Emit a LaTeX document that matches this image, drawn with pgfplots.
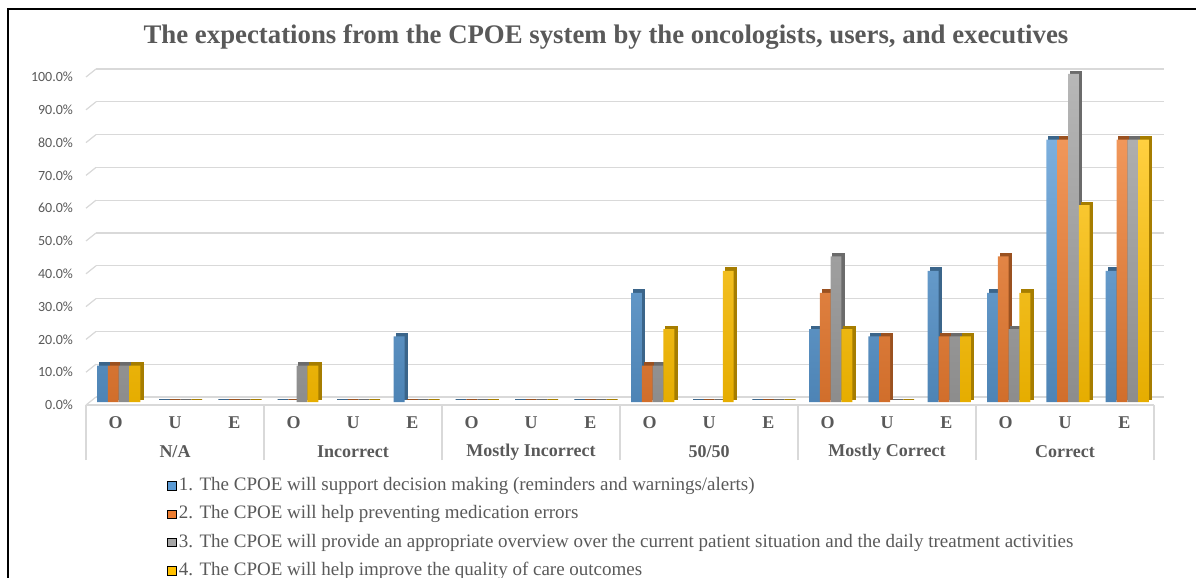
\documentclass[border=0pt]{standalone}
\usepackage{pgfplots}
\pgfplotsset{compat=1.18}
\usepackage{pgfplotstable}
\usepackage{fontspec}
\setmainfont{Liberation Serif}
\newfontfamily\calib{Carlito}
\definecolor{lblgray}{HTML}{595959}
\definecolor{gridc}{HTML}{D9D9D9}
\definecolor{cA}{HTML}{5B9BD5}
\definecolor{cB}{HTML}{ED7D31}
\definecolor{cC}{HTML}{A5A5A5}
\definecolor{cD}{HTML}{FFC000}
\pgfplotstableread{
x s1 s2 s3 s4
0 11.1 11.1 11.1 11.1
1 0 0 0 0
2 0 0 0 0
3 0 0 11.1 11.1
4 0 0 0 0
5 20 0 0 0
6 0 0 0 0
7 0 0 0 0
8 0 0 0 0
9 33.3 11.1 11.1 22.2
10 0 0 0 40
11 0 0 0 0
12 22.2 33.3 44.4 22.2
13 20 20 0 0
14 40 20 20 20
15 33.3 44.4 22.2 33.3
16 80 80 100 60
17 40 80 80 80
}\datatable
\begin{document}
\begin{tikzpicture}
\useasboundingbox (0,0) rectangle (598bp,289bp);
\draw[line width=1bp] (4bp,0) -- (4bp,284.5bp) -- (598bp,284.5bp);
\node[anchor=base, text=lblgray, font=\bfseries\fontsize{13.4bp}{15bp}\selectfont] at (303bp,267bp)
  {The expectations from the CPOE system by the oncologists, users, and executives};
\begin{axis}[
  at={(43bp,86.5bp)}, anchor=south west,
  scale only axis, width=534bp, height=164bp,
  xmin=-0.5, xmax=17.5, ymin=0, ymax=100,
  clip=false,
  axis x line*=bottom, axis y line*=left,
  x axis line style={-, draw=gridc, line width=0.6bp},
  y axis line style={draw=none},
  ytick={0,10,...,100},
  ytick style={draw=none},
  ymajorgrids,
  major grid style={draw=gridc, line width=0.6bp, xshift=5bp, yshift=4bp},
  /pgf/number format/.cd, fixed, fixed zerofill, precision=1, assume math mode=true,
  /pgfplots/.cd,
  yticklabel={\pgfmathprintnumber{\tick}\%},
  yticklabel style={font=\calib\fontsize{7bp}{8bp}\selectfont, text=lblgray, xshift=-3bp},
  xtick={0,...,17},
  xticklabels={O,U,E,O,U,E,O,U,E,O,U,E,O,U,E,O,U,E},
  major tick length=0pt,
  xticklabel style={anchor=center, yshift=-9bp, font=\bfseries\fontsize{9bp}{10bp}\selectfont, text=lblgray},
  extra x ticks={-0.5,2.5,5.5,8.5,11.5,14.5,17.5},
  extra x tick labels={},
  extra x tick style={major tick length=27.5bp, tick align=outside, tick style={draw=gridc, line width=0.6bp}, grid=none},
  legend image code/.code={\fill[#1] (0bp,-2.1bp) rectangle (4.2bp,2.1bp);},
  legend style={at={(axis description cs:0.0758,-0.209)}, anchor=north west, draw=none, fill=none,
    inner sep=0pt, row sep=2.3bp, cells={anchor=west},
    /tikz/every even column/.append style={column sep=0pt},
    /tikz/every odd column/.append style={column sep=0pt},
    font=\fontsize{9.5bp}{11bp}\selectfont, text=lblgray,
    nodes={text height=7bp, text depth=2.5bp, inner sep=1.2bp}},
]
\pgfplotsinvokeforeach{0,10,20,30,40,50,60,70,80,90,100}{\draw[gridc, line width=0.6bp] (axis cs:-0.5,#1) -- ++(5bp,4bp);}
% shadows (3D sides)
\addplot[ybar, forget plot, bar width=5.4bp, bar shift=-6.6bp, fill=cA!65!black, draw=cA!65!black, line width=0.8bp, xshift=1.3bp, yshift=2.8bp] table[x=x,y=s1]{\datatable};
\addplot[ybar, forget plot, bar width=5.4bp, bar shift=-1.2bp, fill=cB!65!black, draw=cB!65!black, line width=0.8bp, xshift=1.3bp, yshift=2.8bp] table[x=x,y=s2]{\datatable};
\addplot[ybar, forget plot, bar width=5.4bp, bar shift=4.2bp, fill=cC!65!black, draw=cC!65!black, line width=0.8bp, xshift=1.3bp, yshift=2.8bp] table[x=x,y=s3]{\datatable};
\addplot[ybar, forget plot, bar width=5.4bp, bar shift=9.6bp, fill=cD!65!black, draw=cD!65!black, line width=0.8bp, xshift=1.3bp, yshift=2.8bp] table[x=x,y=s4]{\datatable};
% fronts
\addplot[ybar, forget plot, bar width=5.4bp, bar shift=-6.6bp, draw=none, top color=cA!80!white, bottom color=cA!85!black, restrict y to domain=0.01:200, yshift=1.5bp] table[x=x,y=s1]{\datatable};
\addplot[ybar, forget plot, bar width=5.4bp, bar shift=-1.2bp, draw=none, top color=cB!80!white, bottom color=cB!88!black, restrict y to domain=0.01:200, yshift=1.5bp] table[x=x,y=s2]{\datatable};
\addplot[ybar, forget plot, bar width=5.4bp, bar shift=4.2bp, draw=none, top color=cC!80!white, bottom color=cC!85!black, restrict y to domain=0.01:200, yshift=1.5bp] table[x=x,y=s3]{\datatable};
\addplot[ybar, forget plot, bar width=5.4bp, bar shift=9.6bp, draw=none, top color=cD!75!white, bottom color=cD!90!black, restrict y to domain=0.01:200, yshift=1.5bp] table[x=x,y=s4]{\datatable};
\addlegendimage{fill=cA}
\addlegendentry{1. The CPOE will support decision making (reminders and warnings/alerts)}
\addlegendimage{fill=cB}
\addlegendentry{2. The CPOE will help preventing medication errors}
\addlegendimage{fill=cC}
\addlegendentry{3. The CPOE will provide an appropriate overview over the current patient situation and the daily treatment activities}
\addlegendimage{fill=cD}
\addlegendentry{4. The CPOE will help improve the quality of care outcomes}
\begin{scope}[font=\bfseries\fontsize{9bp}{10bp}\selectfont, text=lblgray]
\node at (axis cs:1,0) [yshift=-23.5bp] {N/A};
\node at (axis cs:4,0) [yshift=-23.5bp] {Incorrect};
\node at (axis cs:7,0) [yshift=-23.5bp] {Mostly Incorrect};
\node at (axis cs:10,0) [yshift=-23.5bp] {50/50};
\node at (axis cs:13,0) [yshift=-23.5bp] {Mostly Correct};
\node at (axis cs:16,0) [yshift=-23.5bp] {Correct};
\end{scope}
\end{axis}
\end{tikzpicture}
\end{document}
